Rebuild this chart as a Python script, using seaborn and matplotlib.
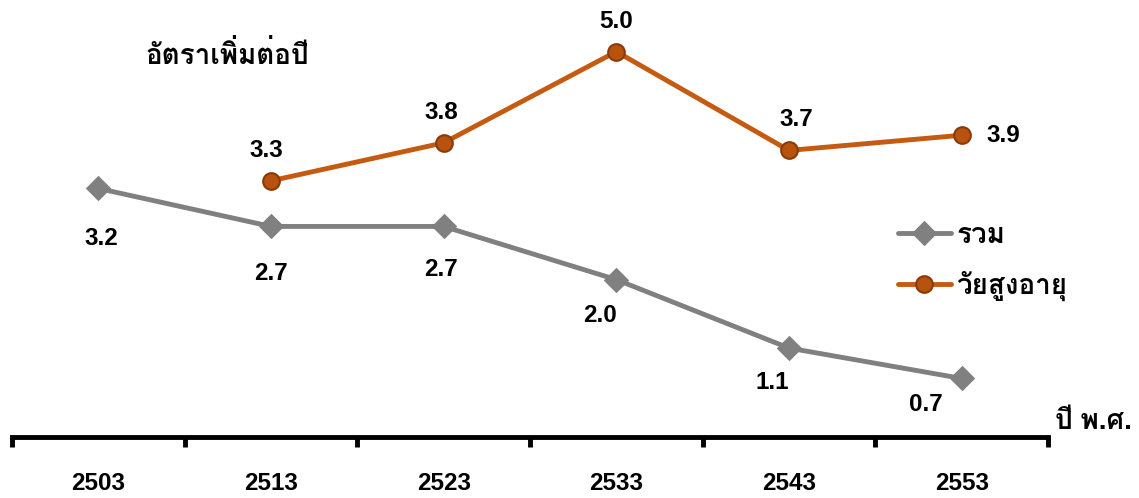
import pandas as pd
import matplotlib
matplotlib.use("Agg")
import matplotlib.pyplot as plt
import matplotlib.font_manager as fm
from matplotlib.ft2font import FT2Font
import seaborn as sns

years = ['2503', '2513', '2523', '2533', '2543', '2553']
total_rate = [3.2, 2.7, 2.7, 2.0, 1.1, 0.7]
elderly_rate = [None, 3.3, 3.8, 5.0, 3.7, 3.9]
total_label = 'รวม'
elderly_label = 'วัยสูงอายุ'
title_text = 'อัตราเพิ่มต่อปี'
xlabel_text = 'ปี พ.ศ.'


def _find_thai_font():
    """Return the first installed family that has Thai glyphs"""
    for f in fm.fontManager.ttflist:
        try:
            if 0x0E2D in FT2Font(f.fname).get_charmap():
                return f.name
        except Exception:
            pass
    return None


sns.set_style("white")
thai = _find_thai_font()
families = ['Liberation Sans'] + ([thai] if thai else []) + ['DejaVu Sans']
plt.rcParams['font.family'] = families
plt.rcParams['font.weight'] = 'bold'
plt.rcParams['text.color'] = 'black'
plt.rcParams['xtick.color'] = 'black'

df = pd.DataFrame({'year': years, 'total': total_rate, 'elderly': elderly_rate})

fig = plt.figure(figsize=(11.39, 4.98), dpi=100)
ax = fig.add_axes([12 / 1139, 61 / 498, 1036 / 1139, 431 / 498])

gray = '#808080'
orange = '#C55A11'
sns.lineplot(data=df, x='year', y='total', ax=ax, color=gray, lw=3.5,
             marker='D', markersize=12, markerfacecolor=gray, markeredgecolor=gray,
             label=total_label)
sns.lineplot(data=df.dropna(), x='year', y='elderly', ax=ax, color=orange, lw=3.5,
             marker='o', markersize=12, markerfacecolor='#B8520F', markeredgecolor='#8A3A08',
             markeredgewidth=1.5, label=elderly_label)

# value labels
total_off = [(2, -36), (0, -34), (-2, -31), (-12, -26), (-12, -25), (-26, -19)]
elderly_off = [None, (-3, 22), (-2, 22), (0, 22), (5, 22), (30, 0)]
for i, v in enumerate(total_rate):
    ax.annotate(f'{v:.1f}', (i, v), xytext=total_off[i], textcoords='offset points',
                ha='center', va='center', fontsize=17.5, fontweight='bold')
for i, v in enumerate(elderly_rate):
    if v is None:
        continue
    ax.annotate(f'{v:.1f}', (i, v), xytext=elderly_off[i], textcoords='offset points',
                ha='center', va='center', fontsize=17.5, fontweight='bold')

ax.set_xlim(-0.5, 5.5)
ax.set_ylim(-0.07, 5.6)
ax.set_xlabel('')
ax.set_ylabel('')
ax.set_yticks([])
ax.set_xticks(range(len(years)))
ax.set_xticklabels(years, fontsize=17.5, fontweight='bold')
ax.tick_params(axis='x', which='major', length=0, pad=25)
ax.set_xticks([i - 0.5 for i in range(len(years) + 1)], minor=True)
ax.tick_params(axis='x', which='minor', bottom=True, length=7, width=3.5,
               direction='out', color='black')
for side in ['top', 'right', 'left']:
    ax.spines[side].set_visible(False)
ax.spines['bottom'].set_linewidth(3.5)
ax.spines['bottom'].set_color('black')

fig.text(145 / 1139, 1 - 56 / 498, title_text, fontsize=20, fontweight='bold', va='center')
fig.text(1055 / 1139, 1 - 422 / 498, xlabel_text, fontsize=20, fontweight='bold', va='center')

ax.legend(loc='center left', bbox_to_anchor=(861 / 1036, (437 - 262) / 431), frameon=False,
          handlelength=1.9, labelspacing=0.8, handletextpad=0.2,
          prop={'weight': 'bold', 'size': 20})

fig.savefig('out.png', dpi=100)
